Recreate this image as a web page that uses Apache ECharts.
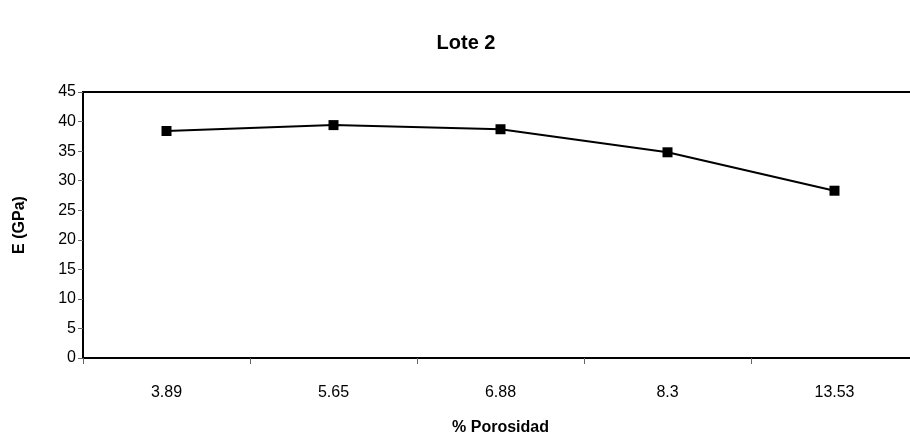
<!DOCTYPE html>
<html>
<head>
<meta charset="utf-8">
<script src="https://cdn.jsdelivr.net/npm/echarts@6/dist/echarts.min.js"></script>
<style>
  html, body { margin: 0; padding: 0; background: #fff; }
  #chart { width: 910px; height: 438px; }
</style>
</head>
<body>
<div id="chart"></div>
<script>
// Porosity categories (%) and Young's modulus (GPa) for batch 2
const porosidad = ['3.89', '5.65', '6.88', '8.3', '13.53'];
const moduloE = [38.4, 39.4, 38.7, 34.8, 28.3];
const yTicks = { min: 0, max: 45, interval: 5 };

const font = '"Liberation Sans", Arial, sans-serif';

const chart = echarts.init(document.getElementById('chart'), null, { renderer: 'canvas' });
chart.setOption({
  animation: false,
  backgroundColor: '#ffffff',
  title: {
    text: 'Lote 2',
    left: 461,
    top: 28,
    textAlign: 'center',
    textStyle: { fontFamily: font, fontWeight: 'bold', fontSize: 20, color: '#000' }
  },
  grid: {
    left: 83, top: 92, width: 835, height: 266,
    outerBoundsMode: 'none',
    containLabel: false,
    show: true, borderColor: '#000', borderWidth: 2, backgroundColor: 'transparent'
  },
  xAxis: {
    type: 'category',
    data: porosidad,
    boundaryGap: true,
    name: '% Porosidad',
    nameLocation: 'middle',
    nameGap: 62,
    nameTextStyle: { fontFamily: font, fontWeight: 'bold', fontSize: 16, color: '#000' },
    axisLine: { lineStyle: { color: '#000', width: 2 } },
    axisTick: { show: true, length: 6, inside: false, lineStyle: { color: '#666', width: 1 } },
    axisLabel: { fontFamily: font, fontSize: 16, color: '#000', margin: 27 },
    splitLine: { show: false }
  },
  yAxis: {
    type: 'value',
    min: yTicks.min,
    max: yTicks.max,
    interval: yTicks.interval,
    name: 'E (GPa)',
    nameLocation: 'middle',
    nameGap: 55,
    nameRotate: 90,
    nameTextStyle: { fontFamily: font, fontWeight: 'bold', fontSize: 16, color: '#000' },
    axisLine: { show: true, lineStyle: { color: '#000', width: 2 } },
    axisTick: { show: true, length: 5, inside: false, lineStyle: { color: '#666', width: 1 } },
    axisLabel: { fontFamily: font, fontSize: 16, color: '#000', margin: 7 },
    splitLine: { show: false }
  },
  series: [{
    type: 'line',
    data: moduloE,
    symbol: 'rect',
    symbolSize: 10,
    itemStyle: { color: '#000' },
    lineStyle: { color: '#000', width: 2 }
  }]
});
</script>
</body>
</html>
